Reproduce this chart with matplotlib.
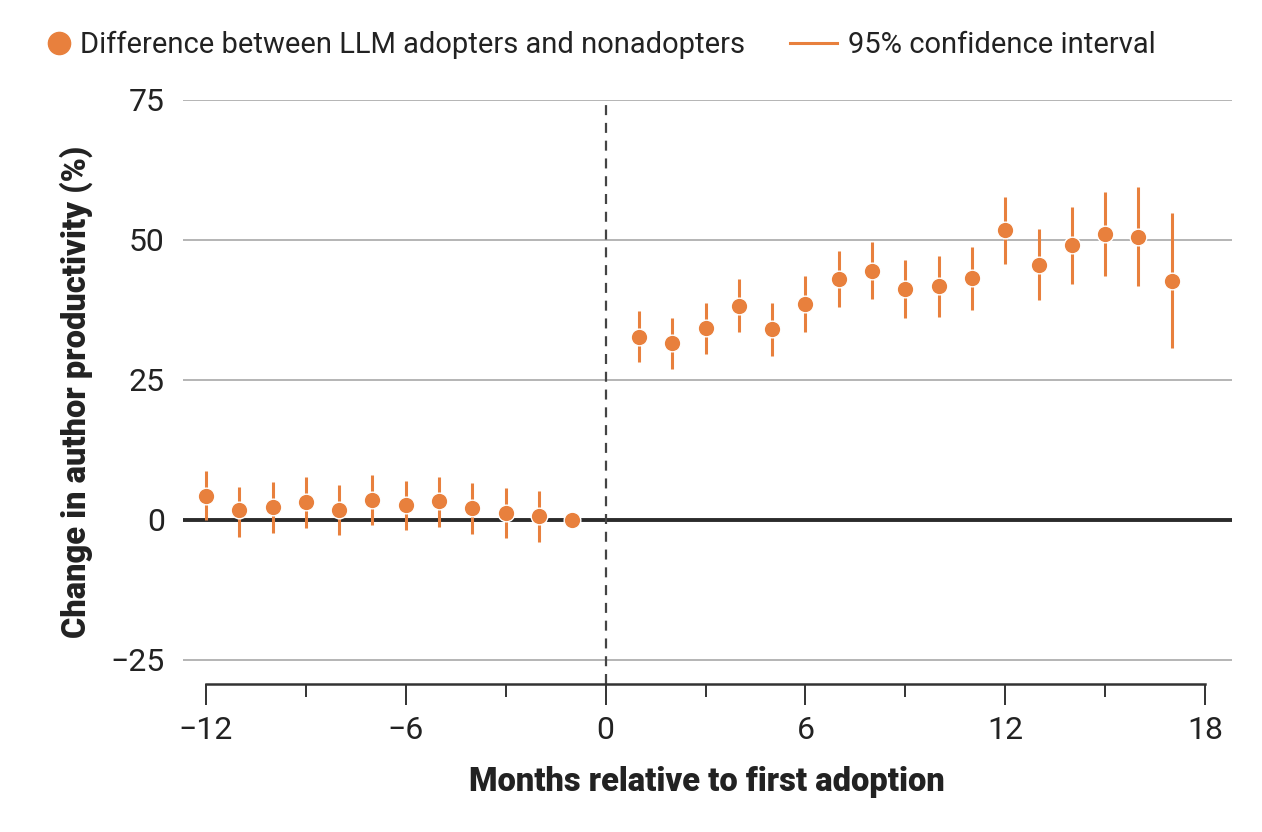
import matplotlib
matplotlib.use("Agg")
import matplotlib.pyplot as plt
import numpy as np
from matplotlib.lines import Line2D
from matplotlib.ticker import MultipleLocator, FuncFormatter

# event-study estimates (month -1 is the reference, no CI)
months = [-12, -11, -10, -9, -8, -7, -6, -5, -4, -3, -2, -1,
          1, 2, 3, 4, 5, 6, 7, 8, 9, 10, 11, 12, 13, 14, 15, 16, 17]
estimate = [4.3, 1.7, 2.3, 3.1, 1.8, 3.6, 2.6, 3.3, 2.1, 1.2, 0.6, 0.0,
            32.7, 31.5, 34.2, 38.2, 34.0, 38.5, 43.0, 44.5, 41.3, 41.8, 43.2, 51.7, 45.5, 49.0, 51.1, 50.5, 42.7]
ci_low = [0.0, -3.0, -2.3, -1.4, -2.7, -0.9, -1.9, -1.3, -2.5, -3.3, -4.0, np.nan,
          28.1, 26.9, 29.6, 33.5, 29.3, 33.6, 38.0, 39.4, 36.0, 36.3, 37.4, 45.7, 39.2, 42.1, 43.5, 41.7, 30.7]
ci_high = [8.8, 5.9, 6.7, 7.6, 6.2, 8.0, 7.0, 7.7, 6.5, 5.7, 5.2, np.nan,
           37.3, 36.1, 38.8, 43.0, 38.8, 43.5, 48.0, 49.7, 46.4, 47.2, 48.8, 57.6, 51.9, 55.9, 58.6, 59.4, 54.8]

orange = "#E8803D"
dark = "#2b2b2b"
txt = "#222222"
plt.rcParams["font.family"] = ["Roboto", "DejaVu Sans"]

fig = plt.figure(figsize=(12.62, 8.32), dpi=100)
ax = fig.add_axes([0.145, 0.178, 0.831, 0.702])

# gridlines and reference lines
for y in [-25, 25, 50, 75]:
    ax.axhline(y, color="#a0a0a0", lw=1.1, zorder=1)
ax.axhline(0, color=dark, lw=2.8, zorder=2)
ax.axvline(0, color="#444444", lw=1.6, ls=(0, (4.5, 3.5)), zorder=2)

# confidence intervals
for m, lo, hi in zip(months, ci_low, ci_high):
    if np.isnan(lo):
        continue
    ax.plot([m, m], [lo, hi], color=orange, lw=2.2, solid_capstyle="butt", zorder=3)
ax.plot(months, estimate, "o", color=orange, ms=12, mec="white", mew=1.0, zorder=4)

ax.set_xlim(-12.69, 18.8)
ax.set_ylim(-29.3, 75)

for s in ["top", "right", "left"]:
    ax.spines[s].set_visible(False)
ax.spines["bottom"].set_bounds(-12, 18)
ax.spines["bottom"].set_color("#333333")
ax.spines["bottom"].set_linewidth(1.8)

minus = lambda v, p: f"{v:.0f}".replace("-", "\u2212")
ax.xaxis.set_major_locator(MultipleLocator(6))
ax.xaxis.set_minor_locator(MultipleLocator(3))
ax.xaxis.set_major_formatter(FuncFormatter(minus))
ax.set_yticks([-25, 0, 25, 50, 75])
ax.yaxis.set_major_formatter(FuncFormatter(minus))
ax.tick_params(axis="x", which="major", length=15, width=1.4, color="#333333",
               pad=8, labelsize=23, labelcolor=txt)
ax.tick_params(axis="x", which="minor", length=9.5, width=1.4, color="#333333")
ax.tick_params(axis="y", length=0, pad=13, labelsize=23, labelcolor=txt)

ax.set_xlabel("Months relative to first adoption", fontsize=23.5, fontweight="heavy",
              color=txt, labelpad=15)
ax.set_ylabel("Change in author productivity (%)", fontsize=23.5, fontweight="heavy",
              color=txt, labelpad=13)

# legend: two separate entries placed like the reference
leg1 = fig.legend([Line2D([], [], marker="o", ls="none", color=orange, ms=16)],
                  ["Difference between LLM adopters and nonadopters"],
                  loc="center left", bbox_to_anchor=(0.036, 0.946), frameon=False,
                  fontsize=21, handlelength=0.9, handletextpad=0.3,
                  borderpad=0, borderaxespad=0, labelcolor=txt)
leg2 = fig.legend([Line2D([], [], color=orange, lw=2.2)],
                  ["95% confidence interval"],
                  loc="center left", bbox_to_anchor=(0.626, 0.946), frameon=False,
                  fontsize=21, handlelength=1.6, handletextpad=0.4,
                  borderpad=0, borderaxespad=0, labelcolor=txt)

fig.savefig("out.png", dpi=100)
